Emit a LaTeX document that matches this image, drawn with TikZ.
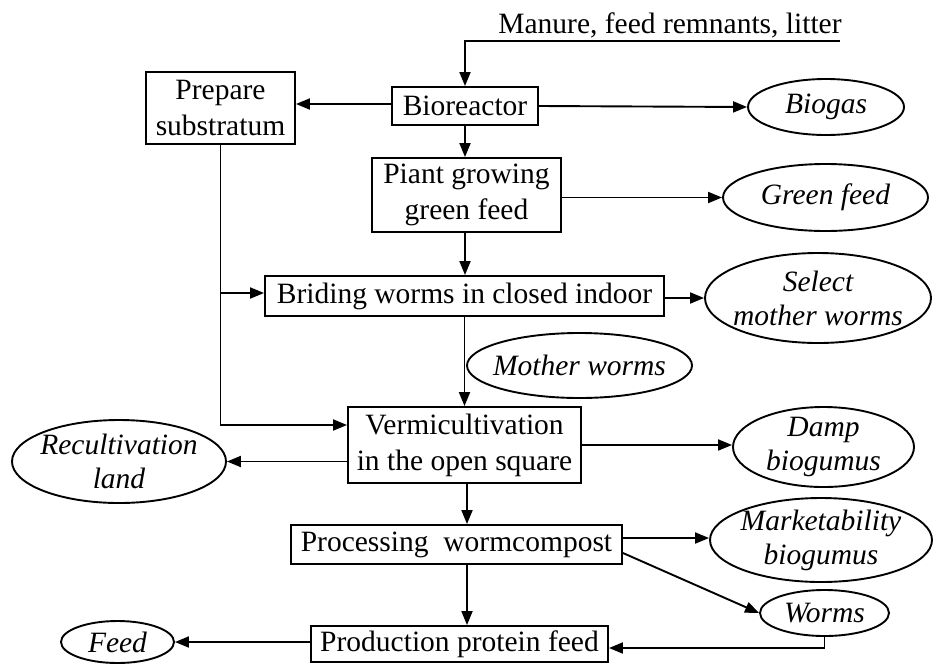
\documentclass[tikz,border=0pt]{standalone}
\usepackage{fontspec}
\setmainfont{Liberation Serif}
\usetikzlibrary{arrows.meta,shapes.geometric,calc}
\begin{document}
\begin{tikzpicture}[x=1pt,y=-1pt,
  every node/.style={font=\fontsize{29.5}{36}\selectfont},
  box/.style={draw,line width=1.9pt,inner sep=0pt,align=center},
  oval/.style={draw,ellipse,line width=1.9pt,inner sep=0pt},
  etext/.style={font=\fontsize{29.5}{34}\selectfont\itshape,align=center,inner sep=0pt},
  arr/.style={line width=1.9pt,-{Triangle[length=14pt,width=11pt]}},
  ln/.style={line width=1.9pt}]
\useasboundingbox (0,0) rectangle (933,664);
% boxes
\node[box,minimum width=149pt,minimum height=72pt] (prep) at (220.5,108) {Prepare\\substratum};
\node[box,minimum width=146pt,minimum height=38pt] (bio) at (465,106) {Bioreactor};
\node[box,minimum width=189pt,minimum height=74pt] (plant) at (466.5,195) {Piant growing\\green feed};
\node[box,minimum width=399pt,minimum height=40pt] (brid) at (464.5,296) {Briding worms in closed indoor};
\node[box,minimum width=233pt,minimum height=76pt] (vermi) at (464.5,445) {Vermicultivation\\in the open square};
\node[box,minimum width=331pt,minimum height=39pt] (proc) at (456.5,544.5) {Processing\ \ wormcompost};
\node[box,minimum width=297pt,minimum height=36pt] (prod) at (459.5,644) {Production protein feed};
% ellipses
\node[oval,minimum width=156pt,minimum height=56pt] (biogas) at (826,107) {};
\node[etext] at (biogas) {Biogas};
\node[oval,minimum width=205pt,minimum height=67pt] (green) at (825.5,197.5) {};
\node[etext] at (green) {Green feed};
\node[oval,minimum width=226pt,minimum height=90pt] (select) at (818,298) {};
\node[etext] at (select) {Select\\mother worms};
\node[oval,minimum width=225pt,minimum height=65pt] (mother) at (579.5,365.5) {};
\node[etext] at (mother) {Mother worms};
\node[oval,minimum width=214pt,minimum height=83pt] (recult) at (119,461.5) {};
\node[etext] at (recult) {Recultivation\\land};
\node[oval,minimum width=181pt,minimum height=80pt] (damp) at (823.5,447) {};
\node[etext] at (damp) {Damp\\biogumus};
\node[oval,minimum width=222pt,minimum height=84pt] (market) at (821,540) {};
\node[etext] at (market) {Marketability\\biogumus};
\node[oval,minimum width=129pt,minimum height=46pt] (worms) at (824.5,613) {};
\node[etext] at (worms) {Worms};
\node[oval,minimum width=113pt,minimum height=42pt] (feed) at (117.5,642) {};
\node[etext] at (feed) {Feed};
% input
\node[anchor=base,inner sep=0pt] (manure) at (670,33) {Manure, feed remnants, litter};
\coordinate (m1) at (840,41);
\draw[arr] (m1) -- (bio.north |- m1) -- (bio.north);
% connectors
\draw[arr] (bio.west |- 0,104) -- (prep.east |- 0,104);
\draw[arr] (bio.east) -- (biogas.west);
\draw[arr] (bio.south) -- (bio.south |- plant.north);
\draw[arr] (plant.east |- green.west) -- (green.west);
\draw[arr] (plant.south -| bio.south) -- (bio.south |- brid.north);
\draw[arr] (brid.east |- select.west) -- (select.west);
\draw[arr] (prep.south) |- (vermi.west |- 0,425);
\draw[arr] (prep.south |- 0,293) -- (brid.west |- 0,293);
\draw[arr] (vermi.north |- brid.south) -- (vermi.north);
\draw[arr] (vermi.west |- recult.east) -- (recult.east);
\draw[arr] (vermi.east) -- (vermi.east -| damp.west);
\draw[arr] (vermi.south -| 467,0) -- (proc.north -| 467,0);
\draw[arr] (proc.east |- 0,538) -- (market.west |- 0,538);
\draw[arr] (proc.east |- 0,553) -- (worms.west);
\draw[arr] (proc.south -| 467,0) -- (prod.north -| 467,0);
\draw[arr] (worms.south) |- (prod.east |- 0,648);
\draw[arr] (prod.west |- feed.east) -- (feed.east);
\end{tikzpicture}
\end{document}
